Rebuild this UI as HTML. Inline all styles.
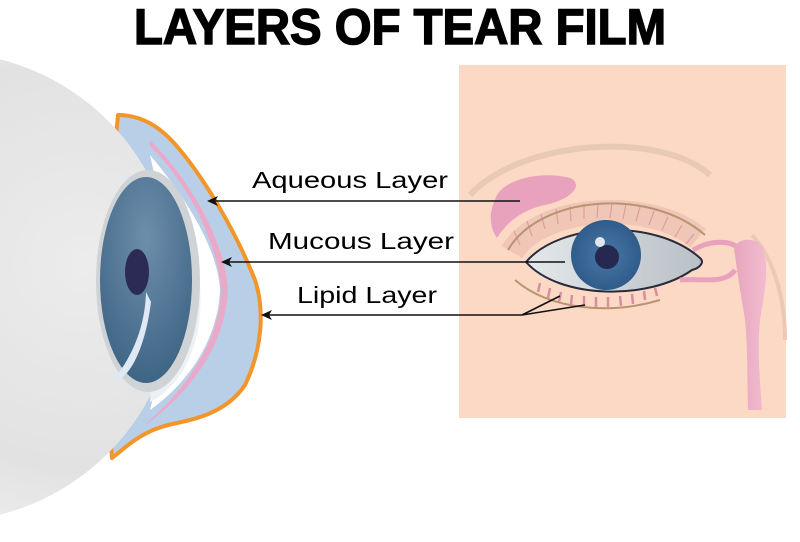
<!DOCTYPE html>
<html><head><meta charset="utf-8"><style>
html,body{margin:0;padding:0;background:#fff;width:800px;height:542px;overflow:hidden}
svg{display:block;overflow:hidden}
text{font-family:"Liberation Sans",sans-serif}
</style></head><body>
<svg width="800" height="542" viewBox="0 0 800 542" xmlns="http://www.w3.org/2000/svg">
<defs>
<radialGradient id="ball" cx="0.8" cy="0.45" r="0.8">
<stop offset="0" stop-color="#ececec"/><stop offset="0.55" stop-color="#e2e2e2"/><stop offset="0.85" stop-color="#f2f2f2"/><stop offset="1" stop-color="#ffffff"/>
</radialGradient>
<radialGradient id="iris" cx="0.5" cy="0.3" r="0.7">
<stop offset="0" stop-color="#6d8eab"/><stop offset="1" stop-color="#3f6585"/>
</radialGradient>
<radialGradient id="iris2" cx="0.5" cy="0.5" r="0.5">
<stop offset="0" stop-color="#4a78a6"/><stop offset="1" stop-color="#2f5c8a"/>
</radialGradient>
<linearGradient id="white" x1="0" x2="1"><stop offset="0" stop-color="#e4e8ea"/><stop offset="1" stop-color="#b8c0c6"/></linearGradient>
<linearGradient id="pink" x1="0" x2="1"><stop offset="0" stop-color="#e7a6bd"/><stop offset="1" stop-color="#f2bcd0"/></linearGradient>
</defs>
<text x="400" y="44" text-anchor="middle" font-size="50" font-weight="bold" stroke="#000" stroke-width="1.5" textLength="532" lengthAdjust="spacingAndGlyphs">LAYERS OF  TEAR FILM</text>

<!-- tear film -->
<path d="M118,115 C140,115 160,125 180,150 C205,180 235,230 255,280 C265,310 262,350 245,385 C225,415 190,420 168,425 C140,432 125,448 112,458 L100,300Z" fill="#b9cfe8" stroke="#f3962a" stroke-width="4" stroke-linejoin="round"/>
<!-- eyeball -->
<circle cx="-58" cy="287" r="235" fill="url(#ball)"/>
<!-- cornea -->
<path d="M150,140 C190,180 225,240 228,290 C226,340 195,390 145,425 L150,420 C185,390 220,340 221,290 C218,245 190,185 150,146Z" fill="#eaa9c8"/>
<path d="M150,155 C188,200 218,250 220,290 C218,340 188,383 150,410 C170,330 170,240 150,155 Z" fill="#ffffff"/>
<path d="M165,180 C198,220 205,290 198,330 C190,370 170,392 150,402Z" fill="#eef1f4"/>
<ellipse cx="148" cy="281" rx="52" ry="111" fill="#cfd3d6"/>
<ellipse cx="146" cy="280" rx="46" ry="103" fill="url(#iris)"/>
<ellipse cx="137" cy="272" rx="12" ry="23" fill="#2c2b55"/>
<path d="M146,292 C145,330 130,360 113,380 C128,382 145,350 151,302Z" fill="#dfe9f5"/>

<!-- right panel -->
<rect x="459" y="65" width="327" height="353" fill="#fcd9c4"/>
<path d="M470,195 C520,140 660,130 710,175" fill="none" stroke="#e8c9b5" stroke-width="6"/>
<path d="M752,235 C775,260 785,300 785,340" fill="none" stroke="#ecc9b5" stroke-width="4"/>
<!-- upper lashes -->
<path d="M512,252 C540,205 650,198 698,238" fill="none" stroke="#f0c6b6" stroke-width="24"/>
<g stroke="#d9a0a0" stroke-width="1.2" fill="none">
<path d="M520,245 l-6,-14 M532,236 l-5,-15 M545,229 l-4,-15 M558,224 l-2,-15 M571,221 l-1,-15 M584,219 l0,-15 M597,218 l1,-15 M610,218 l2,-15 M623,219 l3,-15 M636,221 l4,-14 M649,225 l5,-14 M662,230 l6,-13 M675,237 l7,-12 M686,244 l8,-10"/>
</g>
<path d="M508,250 C540,195 650,187 705,235" fill="none" stroke="#b99473" stroke-width="2"/>
<!-- gland -->
<path d="M495,200 C500,180 540,170 570,178 C585,185 570,200 545,205 C520,210 505,225 497,238 C488,225 490,210 495,200Z" fill="#e8a2bd"/>
<!-- lower lashes -->
<path d="M515,280 C550,310 610,315 660,300" fill="none" stroke="#b99473" stroke-width="2"/>
<g stroke="#d58f9e" stroke-width="2.5">
<line x1="540" y1="283" x2="538" y2="292"/><line x1="550" y1="288" x2="548" y2="298"/><line x1="561" y1="292" x2="559" y2="302"/>
<line x1="572" y1="295" x2="571" y2="305"/><line x1="584" y1="296" x2="584" y2="306"/><line x1="596" y1="297" x2="596" y2="307"/>
<line x1="608" y1="297" x2="608" y2="307"/><line x1="620" y1="296" x2="621" y2="306"/><line x1="632" y1="294" x2="633" y2="304"/>
<line x1="644" y1="291" x2="645" y2="300"/><line x1="655" y1="288" x2="657" y2="296"/>
</g>
<!-- eye -->
<path d="M526,262 C560,222 655,218 700,258 C705,262 700,268 692,270 C650,300 560,300 526,262Z" fill="url(#white)" stroke="#2a2a3a" stroke-width="2"/>
<circle cx="606" cy="255" r="35" fill="url(#iris2)"/>
<circle cx="607" cy="257" r="12" fill="#25284f"/>
<circle cx="600" cy="242" r="5" fill="#dfe6ee"/>
<!-- duct -->
<path d="M693,250 C710,240 730,240 738,248 M680,280 C700,278 725,285 735,270" fill="none" stroke="#e8a2bd" stroke-width="5"/>
<path d="M735,255 C730,240 750,235 762,245 C770,265 765,290 760,320 C757,350 760,380 762,410 L748,410 C747,380 748,350 745,320 C742,300 738,280 735,255Z" fill="url(#pink)"/>

<!-- connectors -->
<g stroke="#111" stroke-width="1.6" fill="none">
<line x1="214" y1="201" x2="520" y2="201"/>
<line x1="228" y1="262" x2="565" y2="262"/>
<line x1="268" y1="315" x2="522" y2="315"/>
<path d="M522,315 L560,296 M522,315 L585,305"/>
</g>
<g fill="#111">
<path d="M207,201 L218,196 L215,201 L218,206Z"/>
<path d="M221,262 L232,257 L229,262 L232,267Z"/>
<path d="M261,315 L272,310 L269,315 L272,320Z"/>
</g>
<text x="252" y="188" font-size="23" textLength="196" lengthAdjust="spacingAndGlyphs">Aqueous Layer</text>
<text x="268" y="249" font-size="23" textLength="186" lengthAdjust="spacingAndGlyphs">Mucous Layer</text>
<text x="297" y="303" font-size="23" textLength="140" lengthAdjust="spacingAndGlyphs">Lipid Layer</text>
</svg>
</body></html>
